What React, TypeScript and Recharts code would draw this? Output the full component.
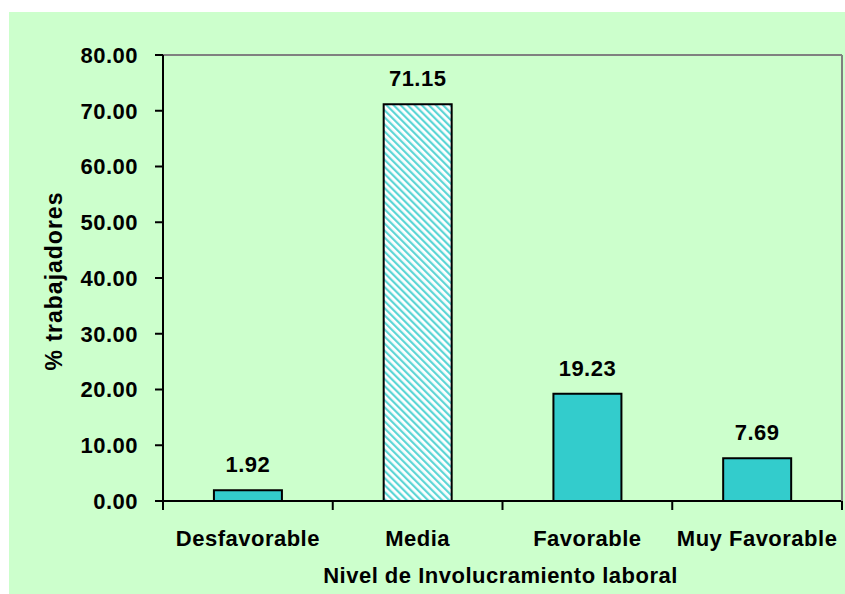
import React from "react";
import {
  BarChart,
  Bar,
  Cell,
  XAxis,
  YAxis,
  LabelList,
  ReferenceLine,
} from "recharts";

// datos del gráfico
const categories = ["Desfavorable", "Media", "Favorable", "Muy Favorable"];
const percentages = [1.92, 71.15, 19.23, 7.69];
const yTicks = [0, 10, 20, 30, 40, 50, 60, 70, 80];

const W = 836;
const H = 582;
const Y_AXIS_W = 154;
const RIGHT_AXIS_W = 3;
const BAND = (W - Y_AXIS_W - RIGHT_AXIS_W) / categories.length;

const FONT = '"Liberation Sans", Arial, sans-serif';
const textStyle = {
  fontFamily: FONT,
  fontSize: 22,
  fontWeight: "bold" as const,
  letterSpacing: 0.5,
  fill: "#000",
};

const data = categories.map((name, i) => ({ name, value: percentages[i] }));

// tick del eje X: línea en el borde de cada categoría + texto centrado
const XTick = (props: any) => {
  const { x, y, payload, index } = props;
  const left = x - BAND / 2;
  const right = x + BAND / 2;
  return (
    <g>
      <line x1={left} x2={left} y1={y} y2={y + 9} stroke="#000" strokeWidth={2} />
      {index === categories.length - 1 && (
        <line x1={right} x2={right} y1={y} y2={y + 9} stroke="#000" strokeWidth={2} />
      )}
      <text x={x} y={y + 45} textAnchor="middle" style={textStyle}>
        {payload.value}
      </text>
    </g>
  );
};

const App: React.FC = () => {
  return (
    <div style={{ position: "absolute", left: 9, top: 12, width: W, height: H, background: "#CCFFCC" }}>
      <svg width={0} height={0} style={{ position: "absolute" }}>
        <defs>
          <pattern
            id="hatch"
            patternUnits="userSpaceOnUse"
            width={5}
            height={5}
            patternTransform="rotate(-45)"
          >
            <rect x={0} y={0} width={5} height={5} fill="#ffffff" />
            <rect x={0} y={0} width={2.2} height={5} fill="#5CD6D6" />
          </pattern>
        </defs>
      </svg>
      <BarChart
        width={W}
        height={H}
        data={data}
        margin={{ top: 43, right: 0, left: 0, bottom: 0 }}
        barCategoryGap="30%"
      >
        <XAxis
          dataKey="name"
          height={93}
          tickLine={false}
          tickSize={0}
          tickMargin={0}
          axisLine={{ stroke: "#000", strokeWidth: 2 }}
          tick={<XTick />}
          interval={0}
          label={{
            content: (p: any) => {
              const vb = p.viewBox;
              return (
                <text x={vb.x + vb.width / 2 - 2} y={vb.y + 82} textAnchor="middle" style={textStyle}>
                  Nivel de Involucramiento laboral
                </text>
              );
            },
          }}
        />
        <YAxis
          width={Y_AXIS_W}
          domain={[0, 80]}
          ticks={yTicks}
          tickFormatter={(v: number) => v.toFixed(2)}
          tickSize={8}
          tickMargin={17}
          tick={textStyle}
          tickLine={{ stroke: "#000", strokeWidth: 2 }}
          axisLine={{ stroke: "#000", strokeWidth: 2 }}
          label={{
            content: (p: any) => {
              const vb = p.viewBox;
              const cx = 45;
              const cy = vb.y + vb.height / 2 + 3;
              return (
                <text
                  x={cx}
                  y={cy}
                  textAnchor="middle"
                  dominantBaseline="central"
                  transform={`rotate(-90 ${cx} ${cy})`}
                  style={{ ...textStyle, fontSize: 23, letterSpacing: 1 }}
                >
                  % trabajadores
                </text>
              );
            },
          }}
        />
        <YAxis
          yAxisId="r"
          orientation="right"
          width={RIGHT_AXIS_W}
          domain={[0, 80]}
          tick={false}
          tickLine={false}
          axisLine={{ stroke: "#808080", strokeWidth: 2 }}
        />
        <ReferenceLine y={80} stroke="#808080" strokeWidth={2} />
        <Bar dataKey="value" stroke="#000" strokeWidth={2} isAnimationActive={false}>
          {data.map((d, i) => (
            <Cell key={d.name} fill={d.name === "Media" ? "url(#hatch)" : "#33CCCC"} />
          ))}
          <LabelList
            dataKey="value"
            position="top"
            offset={18}
            formatter={(v: any) => Number(v).toFixed(2)}
            style={textStyle}
          />
        </Bar>
      </BarChart>
    </div>
  );
};

export default App;
